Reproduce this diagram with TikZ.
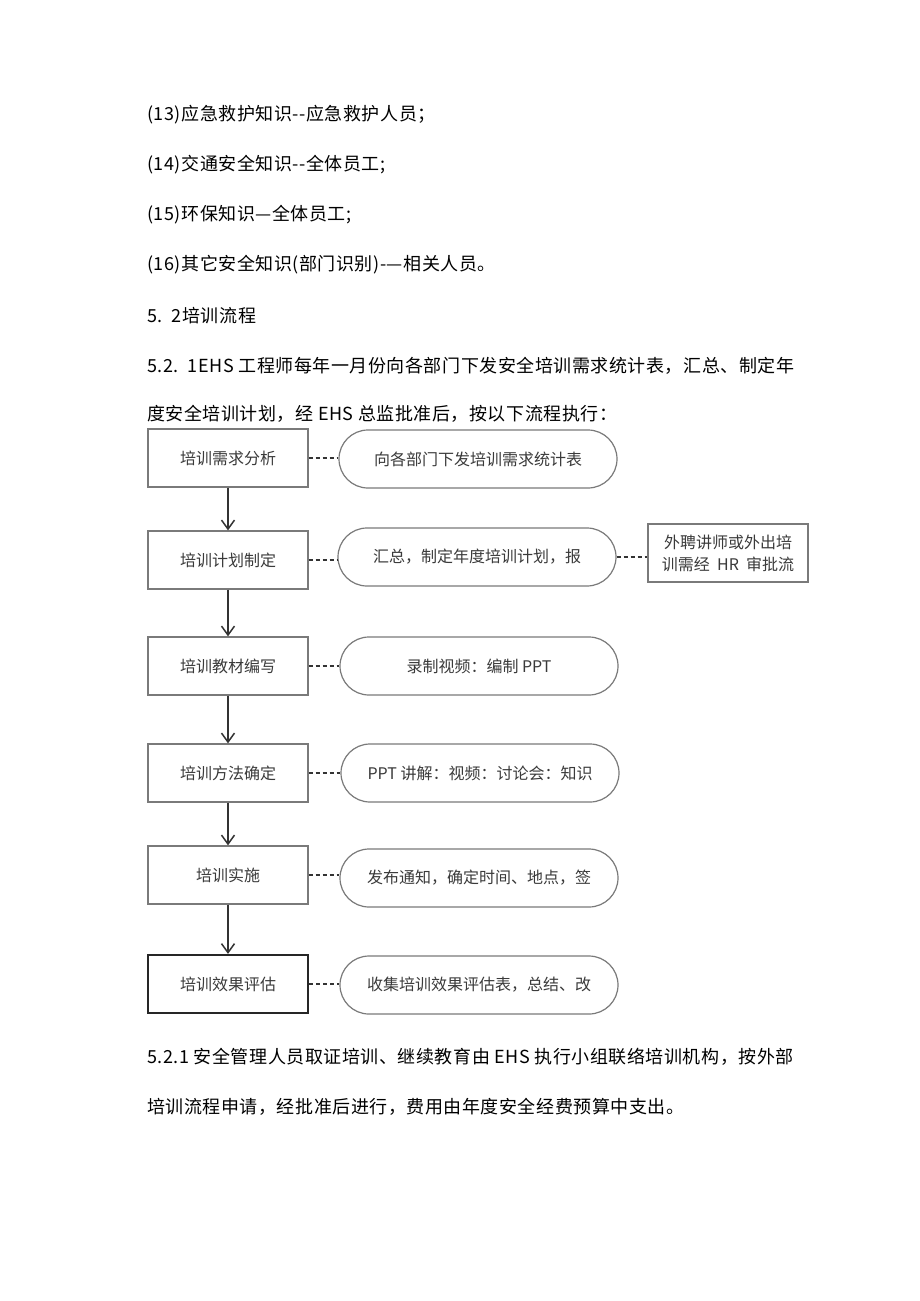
\documentclass[tikz,border=0pt]{standalone}
\usepackage{fontspec}
\setmainfont{Noto Sans CJK SC}
\newfontfamily\bodyfont[LetterSpace=3.0]{Noto Sans CJK SC}
\usetikzlibrary{arrows.meta}
\definecolor{boxline}{HTML}{7A7A7A}
\definecolor{boxtext}{HTML}{3A3A3A}
\definecolor{conn}{HTML}{333333}
\tikzset{
  bodyline/.style={anchor=west, inner sep=0pt, font=\bodyfont\fontsize{18}{22}\selectfont, text=black},
  stepbox/.style={draw=boxline, line width=1.3pt, minimum width=160pt, minimum height=58pt, inner sep=0pt, font=\fontsize{16}{20}\selectfont, text=boxtext},
  lastbox/.style={stepbox, draw=black!85, line width=2.2pt},
  pill/.style={draw=boxline, line width=1.2pt, minimum width=278pt, minimum height=58pt, rounded corners=29pt, inner sep=0pt, font=\fontsize{16}{20}\selectfont, text=boxtext},
  sidebox/.style={draw=boxline, line width=1.3pt, minimum width=160pt, minimum height=58pt, inner sep=0pt, align=center, font=\fontsize{16}{22}\selectfont, text=boxtext},
  flow/.style={draw=conn, line width=1.5pt, -{Straight Barb[length=9pt,width=13pt,line width=1.5pt]}},
  link/.style={draw=conn, line width=1.4pt, dash pattern=on 4pt off 3pt}
}
\begin{document}
\begin{tikzpicture}[x=1pt,y=-1pt]
\useasboundingbox (0,0) rectangle (920,1301);
\fill[white] (0,0) rectangle (920,1301);
% body text
\node[bodyline] (t1) at (147,115) {(13)应急救护知识{-}{-}应急救护人员；};
\node[bodyline] (t2) at (147,165) {(14)交通安全知识{-}{-}全体员工;};
\node[bodyline] (t3) at (147,215) {(15)环保知识—全体员工;};
\node[bodyline] (t4) at (147,265) {(16)其它安全知识(部门识别){-}—相关人员。};
\node[bodyline] (t5) at (147,316) {5.\ \ 2培训流程};
\node[bodyline] (t6) at (147,366) {5.2.\ \ 1EHS 工程师每年一月份向各部门下发安全培训需求统计表，汇总、制定年};
\node[bodyline] (t7) at (147,414) {度安全培训计划，经 EHS 总监批准后，按以下流程执行：};
\node[bodyline] (t8) at (147,1057) {5.2.1 安全管理人员取证培训、继续教育由 EHS 执行小组联络培训机构，按外部};
\node[bodyline] (t9) at (147,1107) {培训流程申请，经批准后进行，费用由年度安全经费预算中支出。};
% flow boxes
\node[stepbox] (b1) at (228,458) {培训需求分析};
\node[stepbox] (b2) at (228,560) {培训计划制定};
\node[stepbox] (b3) at (228,666) {培训教材编写};
\node[stepbox] (b4) at (228,773) {培训方法确定};
\node[stepbox] (b5) at (228,875) {培训实施};
\node[lastbox] (b6) at (228,984) {培训效果评估};
% pills
\node[pill] (p1) at (478,459) {向各部门下发培训需求统计表};
\node[pill] (p2) at (477,557) {汇总，制定年度培训计划，报};
\node[pill] (p3) at (479,666) {录制视频：编制 PPT};
\node[pill] (p4) at (480,773) {PPT 讲解：视频：讨论会：知识};
\node[pill] (p5) at (479,878) {发布通知，确定时间、地点，签};
\node[pill] (p6) at (479,985) {收集培训效果评估表，总结、改};
% side box
\node[sidebox] (s1) at (728,553) {外聘讲师或外出培\\训需经\ \ HR\ \ 审批流};
% arrows
\draw[flow] (b1.south) -- (b2.north);
\draw[flow] (b2.south) -- (b3.north);
\draw[flow] (b3.south) -- (b4.north);
\draw[flow] (b4.south) -- (b5.north);
\draw[flow] (b5.south) -- (b6.north);
% dashed links
\draw[link] (b1.east) -- (b1.east -| p1.west);
\draw[link] (b2.east) -- (b2.east -| p2.west);
\draw[link] (b3.east) -- (b3.east -| p3.west);
\draw[link] (b4.east) -- (b4.east -| p4.west);
\draw[link] (b5.east) -- (b5.east -| p5.west);
\draw[link] (b6.east) -- (b6.east -| p6.west);
\draw[link] (p2.east) -- (p2.east -| s1.west);
\end{tikzpicture}
\end{document}
